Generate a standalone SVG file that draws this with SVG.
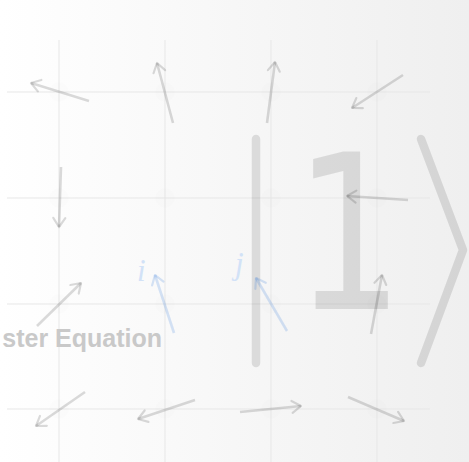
<svg xmlns="http://www.w3.org/2000/svg" width="469" height="462" viewBox="0 0 469 462">
  <defs>
    <linearGradient id="bg" x1="0" y1="0" x2="1" y2="0">
      <stop offset="0" stop-color="#ffffff"/>
      <stop offset="0.5" stop-color="#f7f7f7"/>
      <stop offset="1" stop-color="#efefef"/>
    </linearGradient>
    <marker id="ah" markerUnits="userSpaceOnUse" markerWidth="20" markerHeight="20" viewBox="-12 -10 14 20" refX="0" refY="0" orient="auto">
      <path d="M-9,-6 L0,0 L-9,6" fill="none" stroke="#000" stroke-opacity="0.14" stroke-width="2.2" stroke-linecap="round" stroke-linejoin="round"/>
    </marker>
    <marker id="ahb" markerUnits="userSpaceOnUse" markerWidth="20" markerHeight="20" viewBox="-12 -10 14 20" refX="0" refY="0" orient="auto">
      <path d="M-9,-6 L0,0 L-9,6" fill="none" stroke="#1f6fd6" stroke-opacity="0.18" stroke-width="2.2" stroke-linecap="round" stroke-linejoin="round"/>
    </marker>
  </defs>
  <style>
    .grid line { stroke: #e7e7e7; stroke-width: 1; }
    .dot { fill: #000; fill-opacity: 0.008; }
    .arr { stroke: #000; stroke-opacity: 0.14; stroke-width: 2.6; fill: none; marker-end: url(#ah); }
    .arrb { stroke: #1f6fd6; stroke-opacity: 0.18; stroke-width: 2.6; fill: none; marker-end: url(#ahb); }
    .ket { stroke: #000; stroke-opacity: 0.11; stroke-width: 8.5; fill: none; stroke-linecap: round; stroke-linejoin: round; }
    .lbl { font-family: "Liberation Serif", "DejaVu Serif", serif; font-style: italic; font-size: 31px; fill: #d2e2f7; }
  </style>
  <rect width="469" height="462" fill="url(#bg)"/>
  <g id="grid" class="grid">
    <line x1="59" y1="40" x2="59" y2="462"/>
    <line x1="165" y1="40" x2="165" y2="462"/>
    <line x1="271" y1="40" x2="271" y2="462"/>
    <line x1="377" y1="40" x2="377" y2="462"/>
    <line x1="7" y1="92" x2="430" y2="92"/>
    <line x1="7" y1="198" x2="430" y2="198"/>
    <line x1="7" y1="304" x2="430" y2="304"/>
    <line x1="7" y1="409" x2="430" y2="409"/>
  </g>
  <g id="dots">
    <circle class="dot" cx="59" cy="92" r="10"/><circle class="dot" cx="165" cy="92" r="10"/><circle class="dot" cx="271" cy="92" r="10"/><circle class="dot" cx="377" cy="92" r="10"/>
    <circle class="dot" cx="59" cy="198" r="10"/><circle class="dot" cx="165" cy="198" r="10"/><circle class="dot" cx="271" cy="198" r="10"/><circle class="dot" cx="377" cy="198" r="10"/>
    <circle class="dot" cx="59" cy="304" r="10"/><circle class="dot" cx="165" cy="304" r="10"/><circle class="dot" cx="271" cy="304" r="10"/><circle class="dot" cx="377" cy="304" r="10"/>
    <circle class="dot" cx="59" cy="409" r="10"/><circle class="dot" cx="165" cy="409" r="10"/><circle class="dot" cx="271" cy="409" r="10"/><circle class="dot" cx="377" cy="409" r="10"/>
  </g>
  <g id="ket">
    <line class="ket" x1="256" y1="139" x2="256" y2="363"/>
    <text x="0" y="309" text-anchor="middle" transform="translate(349 0) scale(0.8 1)" font-family="DejaVu Sans, sans-serif" font-size="215" fill="#000" fill-opacity="0.11">1</text>
    <polyline class="ket" points="421,139 463,250 421,363"/>
  </g>
  <g id="title">
    <text x="162" y="347" text-anchor="end" font-family="Liberation Sans, Arial, sans-serif" font-weight="bold" font-size="25" fill="#c9c9c9">ster Equation</text>
  </g>
  <g id="labels">
    <text id="label-i" class="lbl" x="137" y="281">i</text>
    <text id="label-j" class="lbl" x="235" y="274">j</text>
  </g>
  <g id="connectors">
    <line class="arr" x1="89" y1="101" x2="31" y2="83"/>
    <line class="arr" x1="173" y1="123" x2="157" y2="63"/>
    <line class="arr" x1="267" y1="123" x2="275" y2="62"/>
    <line class="arr" x1="403" y1="75" x2="352" y2="108"/>
    <line class="arr" x1="61" y1="167" x2="59" y2="227"/>
    <line class="arr" x1="408" y1="200" x2="347" y2="196"/>
    <line class="arr" x1="37" y1="326" x2="81" y2="283"/>
    <line class="arrb" x1="174" y1="333" x2="155" y2="275"/>
    <line class="arrb" x1="287" y1="331" x2="256" y2="278"/>
    <line class="arr" x1="371" y1="334" x2="382" y2="275"/>
    <line class="arr" x1="85" y1="392" x2="36" y2="426"/>
    <line class="arr" x1="195" y1="400" x2="138" y2="419"/>
    <line class="arr" x1="240" y1="412" x2="301" y2="406"/>
    <line class="arr" x1="348" y1="397" x2="404" y2="421"/>
  </g>
</svg>
